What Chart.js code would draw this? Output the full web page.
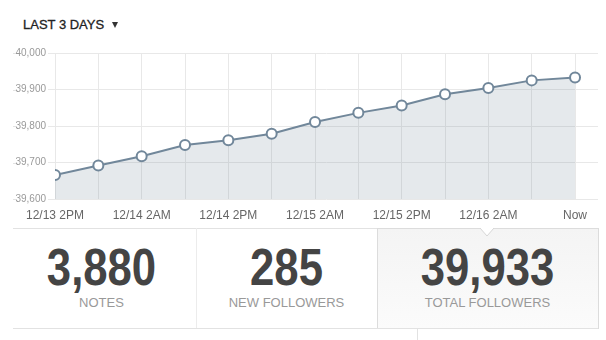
<!DOCTYPE html>
<html>
<head>
<meta charset="utf-8">
<script src="https://cdn.jsdelivr.net/npm/chart.js@4.4.1/dist/chart.umd.min.js"></script>
<style>
    html, body { margin: 0; padding: 0; background: #fff; }
    body { width: 606px; height: 340px; position: relative; overflow: hidden; font-family: 'Liberation Sans', Arial, sans-serif; }
    #range { position: absolute; left: 23px; top: 18px; font-size: 13px; line-height: 13px; color: #222; -webkit-text-stroke: 0.3px #222; }
    #range .caret { display: inline-block; margin-left: 8px; width: 0; height: 0; border-left: 3.5px solid transparent; border-right: 3.5px solid transparent; border-top: 6px solid #333; vertical-align: 1px; }
    #chartWrap { position: absolute; left: 0; top: 0; width: 606px; height: 225px; }
    .rule { position: absolute; background: #e2e2e2; }
    .stat { position: absolute; top: 228px; height: 100px; text-align: center; }
    .stat .num { position: absolute; left: 0; right: 0; font-size: 52px; line-height: 52px; font-weight: bold; color: #444; transform: scaleX(0.84); }
    .stat .lbl { position: absolute; left: 0; right: 0; font-size: 13px; line-height: 13px; color: #999; }
    #selected { position: absolute; left: 377px; top: 228px; width: 220px; height: 99px; border: 1px solid #dcdcdc; background: linear-gradient(#f4f4f4, #fbfbfb); }
    #notch { position: absolute; left: 480px; top: 226px; width: 14px; height: 12px; }
</style>
</head>
<body>
<div id="range">LAST 3 DAYS<span class="caret"></span></div>
<div id="chartWrap"><canvas id="followersChart" width="606" height="225"></canvas></div>

<div id="selected"></div>
<svg id="notch" viewBox="0 0 14 12"><polyline points="0,2 7,10 14,2" fill="#fff" stroke="#d6d6d6" stroke-width="1"/></svg>
<div class="rule" style="left:13px; top:228px; width:364px; height:1px;"></div>
<div class="rule" style="left:13px; top:328px; width:585px; height:1px;"></div>
<div class="rule" style="left:196px; top:228px; width:1px; height:100px; background:#ececec;"></div>
<div class="rule" style="left:417px; top:328px; width:1px; height:12px;"></div>

<div id="stats"></div>

<script>
const timeLabels = ['12/13 2PM', '', '12/14 2AM', '', '12/14 2PM', '', '12/15 2AM', '', '12/15 2PM', '', '12/16 2AM', '', 'Now'];
const followers = [39666, 39692, 39717, 39748, 39761, 39779, 39811, 39836, 39856, 39887, 39904, 39925, 39933];
const yTicks = [39600, 39700, 39800, 39900, 40000];

const statValues = ['3,880', '285', '39,933'];
const statNames = ['NOTES', 'NEW FOLLOWERS', 'TOTAL FOLLOWERS'];
const statBoxes = [[10, 183], [196, 181], [377, 221]];

const lineColor = '#71879a';

// little dash left of each y label
const leftDashes = {
    id: 'leftDashes',
    afterDraw(chart) {
        const { ctx, scales } = chart;
        ctx.save();
        ctx.strokeStyle = '#e2e2e2';
        ctx.lineWidth = 1;
        yTicks.forEach(v => {
            const y = Math.round(scales.y.getPixelForValue(v)) + 0.5;
            ctx.beginPath();
            ctx.moveTo(13, y);
            ctx.lineTo(16, y);
            ctx.stroke();
        });
        ctx.restore();
    }
};

const ctx = document.getElementById('followersChart').getContext('2d');
new Chart(ctx, {
    type: 'line',
    data: {
        datasets: [{
            data: followers.map((v, i) => ({ x: i, y: v })),
            borderColor: lineColor,
            borderWidth: 2,
            backgroundColor: 'rgba(116, 137, 154, 0.19)',
            fill: 'start',
            tension: 0,
            pointRadius: 5,
            pointBorderWidth: 2,
            pointBackgroundColor: '#fff',
            pointBorderColor: lineColor
        }]
    },
    options: {
        responsive: false,
        animation: false,
        layout: { padding: { top: 53, right: 8, left: 0, bottom: 0 } },
        plugins: { legend: { display: false }, tooltip: { enabled: false } },
        scales: {
            x: {
                type: 'linear',
                min: 0,
                max: 12.53,
                border: { display: false },
                grid: { color: '#e8e8e8', drawTicks: false },
                ticks: {
                    stepSize: 1,
                    includeBounds: false,
                    autoSkip: false,
                    maxRotation: 0,
                    padding: 9,
                    color: '#666',
                    font: { family: "'Liberation Sans', Arial, sans-serif", size: 12 },
                    callback: v => timeLabels[v] || ''
                },
                afterFit: s => { s.height = 26; }
            },
            y: {
                min: 39600,
                max: 40000,
                border: { display: false },
                grid: { color: '#e8e8e8', tickLength: 7 },
                ticks: {
                    stepSize: 100,
                    padding: 2,
                    color: '#999',
                    font: { family: "'Liberation Sans', Arial, sans-serif", size: 10 },
                    callback: v => v.toLocaleString('en-US')
                },
                afterFit: s => { s.width = 55; }
            }
        }
    },
    plugins: [leftDashes]
});

// stat panels under the chart
const stats = document.getElementById('stats');
statValues.forEach((val, i) => {
    const [left, width] = statBoxes[i];
    const box = document.createElement('div');
    box.className = 'stat';
    box.style.left = left + 'px';
    box.style.width = width + 'px';
    box.innerHTML = `
        <div class="num" style="top:13px">${val}</div>
        <div class="lbl" style="top:68px">${statNames[i]}</div>
    `;
    stats.appendChild(box);
});
</script>
</body>
</html>
